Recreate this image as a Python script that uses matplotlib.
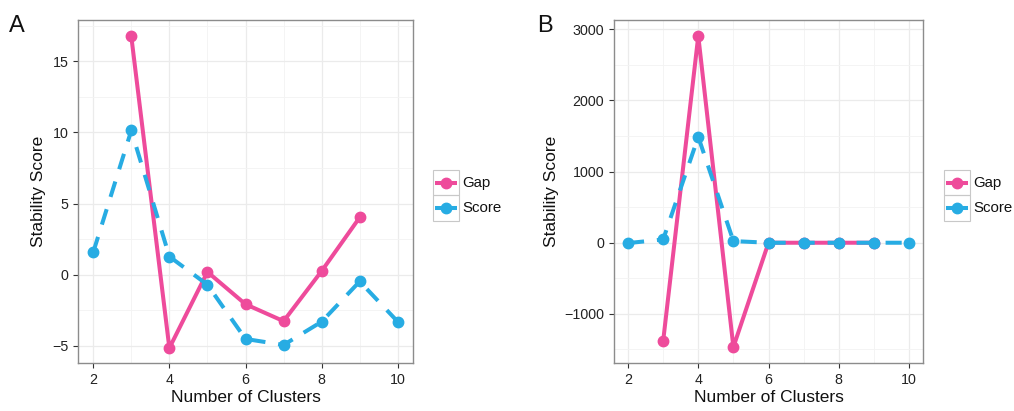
import matplotlib
matplotlib.use("Agg")
import matplotlib.pyplot as plt
from matplotlib.ticker import MultipleLocator
from matplotlib.lines import Line2D

plt.rcParams['font.family'] = ['Liberation Sans', 'DejaVu Sans']

# Panel A data
a_gap_x = [3, 4, 5, 6, 7, 8, 9]
a_gap_y = [16.75, -5.15, 0.2, -2.07, -3.26, 0.26, 4.03]
a_score_x = [2, 3, 4, 5, 6, 7, 8, 9, 10]
a_score_y = [1.58, 10.14, 1.28, -0.7, -4.51, -4.93, -3.3, -0.47, -3.3]

# Panel B data
b_gap_x = [3, 4, 5, 6, 7, 8, 9]
b_gap_y = [-1382, 2906, -1466, 0, 0, 0, 0]
b_score_x = [2, 3, 4, 5, 6, 7, 8, 9, 10]
b_score_y = [-5, 46, 1488, 23, 0, 0, 0, 0, 0]

x_ticks = [2, 4, 6, 8, 10]
a_yticks = [-5, 0, 5, 10, 15]
b_yticks = [-1000, 0, 1000, 2000, 3000]
series_labels = ['Gap', 'Score']

PINK = '#EE4B9B'
BLUE = '#27ACE3'
LW = 2.9
MS = 7.5
DASH = (0, (4.0, 3.2))

W, H = 1014, 411
fig = plt.figure(figsize=(W / 100, H / 100), dpi=100)
axA = fig.add_axes([78/W, 48/H, 335/W, 343/H])
axB = fig.add_axes([614/W, 48/H, 309/W, 343/H])


def style(ax, yticks, ymajor_step, ylim):
    ax.set_xlim(1.6, 10.4)
    ax.set_ylim(*ylim)
    ax.set_xticks(x_ticks)
    ax.set_yticks(yticks)
    ax.xaxis.set_minor_locator(MultipleLocator(1))
    ax.yaxis.set_minor_locator(MultipleLocator(ymajor_step / 2))
    ax.grid(which='major', color='#EBEBEB', linewidth=0.9, zorder=0)
    ax.grid(which='minor', color='#F3F3F3', linewidth=0.6, zorder=0)
    ax.set_axisbelow(True)
    for s in ax.spines.values():
        s.set_color('#8C8C8C')
        s.set_linewidth(1.0)
    ax.tick_params(which='major', length=3.5, width=0.8, color='#333333',
                   labelsize=10.3, labelcolor='#222222', pad=3.5)
    ax.tick_params(which='minor', length=0)
    ax.set_xlabel('Number of Clusters', fontsize=12.5, color='#111111', labelpad=2.5)
    ax.set_ylabel('Stability Score', fontsize=12.5, color='#111111', labelpad=4)


def draw(ax, gx, gy, sx, sy):
    ax.plot(gx, gy, color=PINK, lw=LW, marker='o', ms=MS, zorder=3,
            solid_capstyle='butt')
    ax.plot(sx, sy, color=BLUE, lw=LW, marker='o', ms=MS, zorder=4,
            linestyle=DASH, dash_capstyle='butt')


def legend(x0, y0):
    colors = [PINK, BLUE]
    kw, kh = 26, 25.5
    for i, (lab, c) in enumerate(zip(series_labels, colors)):
        top = y0 + i * kh
        fig.patches.append(plt.Rectangle((x0 / W, 1 - (top + kh) / H), kw / W, kh / H,
                                         transform=fig.transFigure, fill=False,
                                         edgecolor='#C8C8C8', lw=0.8))
        yc = 1 - (top + kh / 2) / H
        fig.lines.append(Line2D([(x0 + 2) / W, (x0 + kw - 2) / W], [yc, yc],
                                transform=fig.transFigure, color=c, lw=LW,
                                solid_capstyle='butt'))
        fig.lines.append(Line2D([(x0 + kw / 2) / W], [yc], transform=fig.transFigure,
                                color=c, marker='o', ms=MS, lw=0))
        fig.text((x0 + kw + 3) / W, yc, lab, fontsize=10.8, color='#111111',
                 va='center', ha='left')


draw(axA, a_gap_x, a_gap_y, a_score_x, a_score_y)
style(axA, a_yticks, 5, (-6.2, 17.9))
draw(axB, b_gap_x, b_gap_y, b_score_x, b_score_y)
style(axB, b_yticks, 1000, (-1690, 3130))

legend(433, 170)
legend(944, 170)

fig.text(9/W, 1 - 32/H, 'A', fontsize=17, color='#111111')
fig.text(537/W, 1 - 32/H, 'B', fontsize=17, color='#111111')

fig.savefig('out.png', dpi=100)
